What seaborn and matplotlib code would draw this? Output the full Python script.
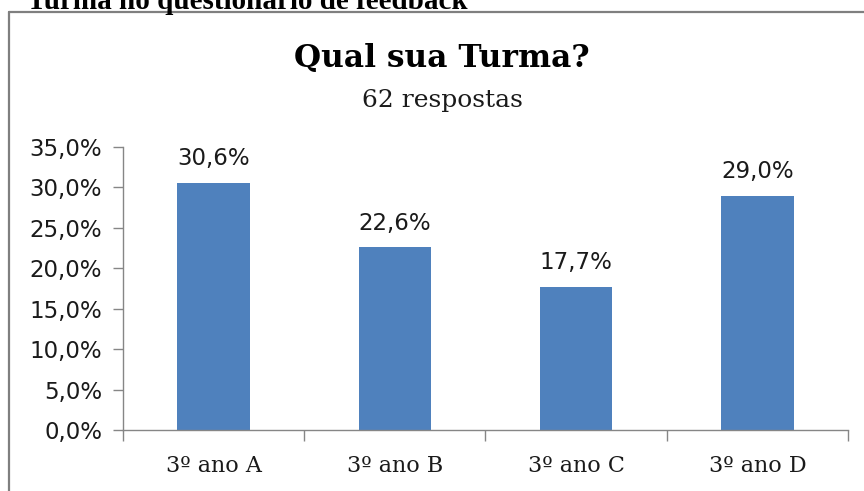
import matplotlib
matplotlib.use("Agg")
import matplotlib.pyplot as plt
import seaborn as sns
import pandas as pd
from matplotlib.lines import Line2D
from matplotlib.ticker import FuncFormatter, FixedLocator

categories = ["3º ano A", "3º ano B", "3º ano C", "3º ano D"]
values = [30.6, 22.6, 17.7, 29.0]
value_labels = ["30,6%", "22,6%", "17,7%", "29,0%"]
yticks = [0, 5, 10, 15, 20, 25, 30, 35]

sns.set_theme(style="white")
plt.rcParams['font.family'] = ['DejaVu Sans']

df = pd.DataFrame({"turma": categories, "pct": values})

fig = plt.figure(figsize=(8.64, 4.91), dpi=100)
ax = fig.add_axes([123/864, 1-430/491, (848-123)/864, (430-147)/491])

sns.barplot(data=df, x="turma", y="pct", color="#4F81BD", width=0.4,
            saturation=1, ax=ax, edgecolor="none")

ax.set_ylim(0, 35)
ax.set_xlim(-0.5, 3.5)
ax.set_xlabel("")
ax.set_ylabel("")
ax.set_yticks(yticks)
ax.yaxis.set_major_formatter(FuncFormatter(lambda v, p: f"{v:.1f}%".replace(".", ",")))
ax.tick_params(axis="y", which="major", direction="out", length=7, width=1,
               color="#868686", labelsize=16.5, labelcolor="#1a1a1a", pad=8, left=True)
for lab in ax.get_yticklabels():
    lab.set_fontfamily("DejaVu Sans")

ax.tick_params(axis="x", which="major", length=0, pad=18, labelsize=16, labelcolor="#1a1a1a")
for lab in ax.get_xticklabels():
    lab.set_fontfamily("DejaVu Serif")
ax.xaxis.set_minor_locator(FixedLocator([-0.5, 0.5, 1.5, 2.5, 3.5]))
ax.tick_params(axis="x", which="minor", direction="out", length=8, width=1,
               color="#868686", bottom=True)

for s in ["top", "right"]:
    ax.spines[s].set_visible(False)
for s in ["left", "bottom"]:
    ax.spines[s].set_color("#868686")
    ax.spines[s].set_linewidth(1)
ax.grid(False)

for i, (v, lab) in enumerate(zip(values, value_labels)):
    ax.annotate(lab, (i, v), xytext=(0, 9), textcoords="offset points",
                ha="center", va="bottom", fontsize=16.5, color="#1a1a1a",
                family="DejaVu Sans")

fig.text(442/864, 1-58/491, "Qual sua Turma?", ha="center", va="center",
         fontsize=22.5, fontweight="bold", family="DejaVu Serif", color="black")
fig.text(442/864, 1-100/491, "62 respostas", ha="center", va="center",
         fontsize=18, family="DejaVu Serif", color="#1a1a1a")

# clipped caption above the box
fig.text(27/864, 1-9/491, "Turma no questionário de feedback", ha="left",
         va="baseline", fontsize=21, fontweight="bold", family="Liberation Serif",
         color="black")

# outer frame (left and top edges)
fig.add_artist(Line2D([9/864, 9/864], [0, 1-12/491], transform=fig.transFigure,
                      color="#7f7f7f", linewidth=1.6))
fig.add_artist(Line2D([9/864, 1], [1-12/491, 1-12/491], transform=fig.transFigure,
                      color="#7f7f7f", linewidth=1.6))

fig.savefig("out.png", dpi=100)
